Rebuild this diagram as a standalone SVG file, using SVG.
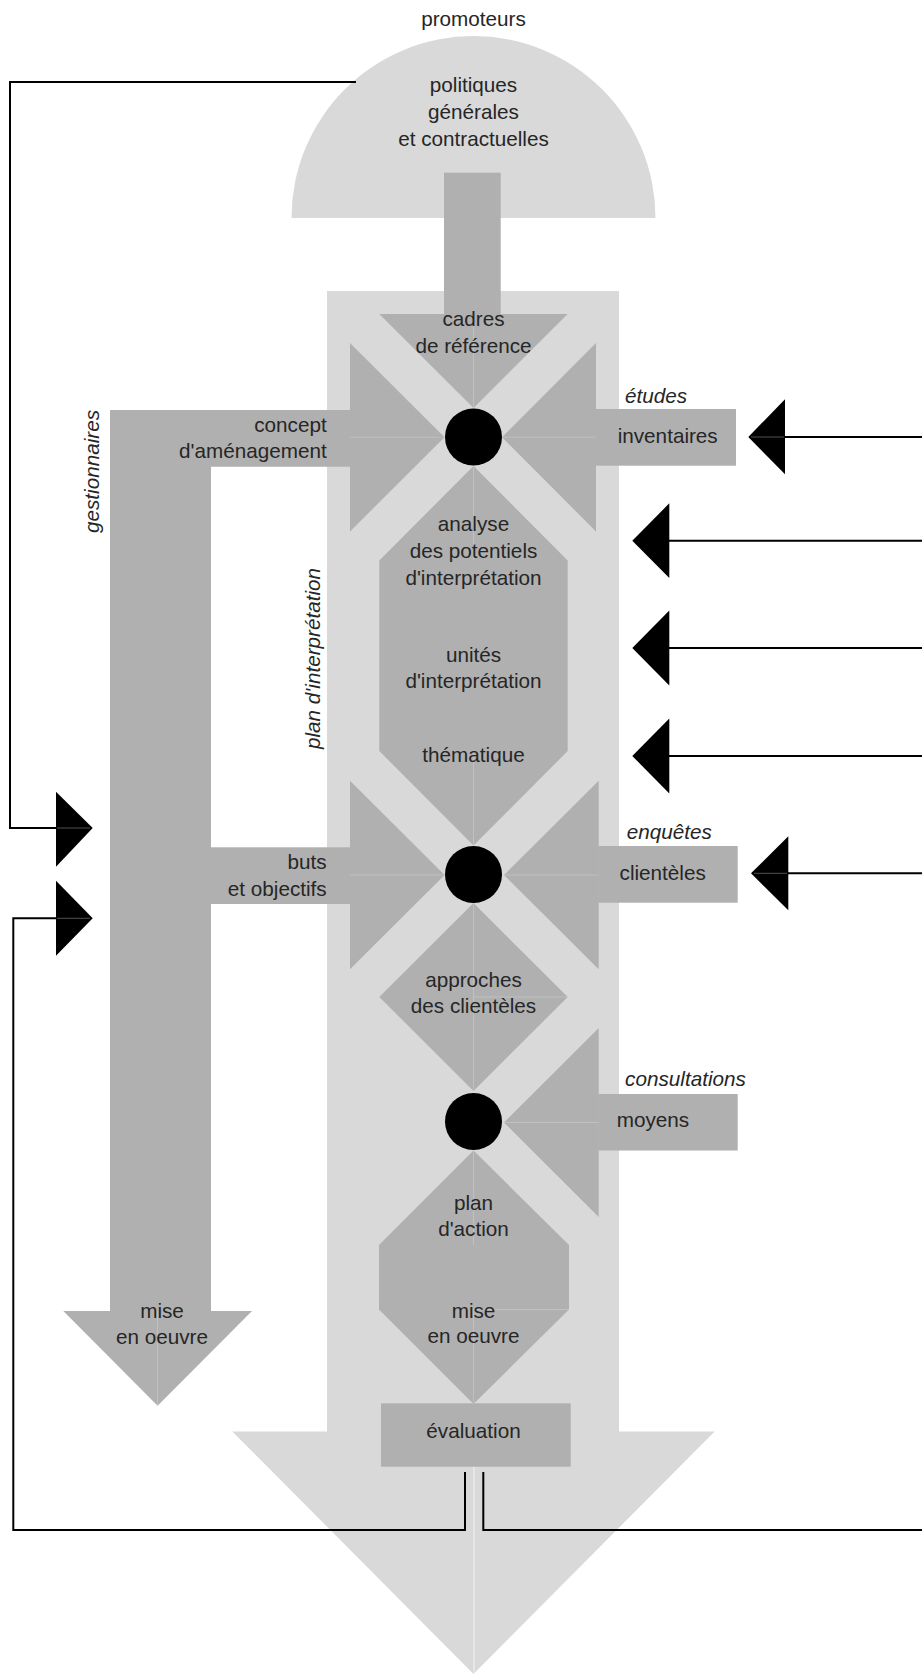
<svg xmlns="http://www.w3.org/2000/svg" width="922" height="1674" viewBox="0 0 922 1674">
<style>
.lg{fill:#d9d9d9}
.dg{fill:#b0b0b0}
.seam{stroke:#c4c4c4;stroke-width:0.8;fill:none}
.t{font-family:"Liberation Sans",Arial,sans-serif;font-size:20.7px;fill:#262626;text-anchor:middle}
.e{text-anchor:end}
.i{font-style:italic}
.ln{stroke:#000;stroke-width:2;fill:none}
.ah{fill:#000}
.ahs{stroke:#666;stroke-width:0.8}
</style>
<rect width="922" height="1674" fill="#fff"/>

<g id="plan-interpretation">
  <path class="lg" d="M327,291 L619,291 L619,1431.4 L714.7,1431.4 L473.5,1674 L232.3,1431.4 L327,1431.4 Z"/>
  <line x1="474" y1="1467" x2="474" y2="1674" stroke="#efefef" stroke-width="1.2"/>
  <text class="t i" transform="translate(319.5,749) rotate(-90)" style="text-anchor:start">plan d'interprétation</text>
</g>

<g id="promoteurs">
  <path class="lg" d="M291.5,218 A182,182 0 0 1 655.5,218 Z"/>
  <rect class="dg" x="444" y="172.7" width="56.7" height="145"/>
  <text class="t" x="473.5" y="26">promoteurs</text>
  <text class="t" x="473.5" y="92">politiques</text>
  <text class="t" x="473.5" y="119">générales</text>
  <text class="t" x="473.5" y="146">et contractuelles</text>
</g>

<g id="cadres">
  <polygon class="dg" points="379.3,314 567.7,314 473.5,408"/>
  <line class="seam" x1="473.5" y1="314" x2="473.5" y2="408"/>
  <text class="t" x="473.5" y="326">cadres</text>
  <text class="t" x="473.5" y="352.7">de référence</text>
</g>

<g id="gestionnaires">
  <path class="dg" d="M110,410 L350,410 L350,466.7 L211,466.7 L211,1311 L252,1311 L157.6,1405.7 L63.3,1311 L110,1311 Z"/>
  <polygon class="dg" points="350,343 350,531.5 444.5,437.2"/>
  <line class="seam" x1="350" y1="437.2" x2="444" y2="437.2"/>
  <line class="seam" x1="157.5" y1="1311" x2="157.5" y2="1405"/>
  <text class="t i" transform="translate(99,533) rotate(-90)" style="text-anchor:start">gestionnaires</text>
  <text class="t e" x="326.7" y="431.7">concept</text>
  <text class="t e" x="326.7" y="458.3">d'aménagement</text>
  <text class="t" x="162" y="1317.5">mise</text>
  <text class="t" x="162" y="1343.5">en oeuvre</text>
</g>

<g id="buts">
  <rect class="dg" x="211" y="847.3" width="139.5" height="56.7"/>
  <polygon class="dg" points="350,780.7 350,969.3 444.6,875"/>
  <line class="seam" x1="350" y1="875" x2="444" y2="875"/>
  <text class="t e" x="326.7" y="869">buts</text>
  <text class="t e" x="326.7" y="895.7">et objectifs</text>
</g>

<g id="inventaires">
  <polygon class="dg" points="596,343 596,531.5 502,437.2"/>
  <rect class="dg" x="595.5" y="409" width="140.5" height="56.7"/>
  <line class="seam" x1="503" y1="437.2" x2="596" y2="437.2"/>
  <text class="t i" x="656" y="403">études</text>
  <text class="t" x="667.7" y="443">inventaires</text>
</g>

<g id="analyse">
  <polygon class="dg" points="473.5,466 567.7,560.5 567.7,751 473.5,845.5 379.3,751 379.3,560.5"/>
  <line class="seam" x1="473.5" y1="466" x2="473.5" y2="560"/>
  <line class="seam" x1="473.5" y1="751" x2="473.5" y2="845"/>
  <text class="t" x="473.5" y="530.7">analyse</text>
  <text class="t" x="473.5" y="558.3">des potentiels</text>
  <text class="t" x="473.5" y="585">d'interprétation</text>
  <text class="t" x="473.5" y="661.7">unités</text>
  <text class="t" x="473.5" y="688.3">d'interprétation</text>
  <text class="t" x="473.5" y="761.7">thématique</text>
</g>

<g id="clienteles">
  <polygon class="dg" points="598.7,780.7 598.7,969.3 504,875"/>
  <rect class="dg" x="598.2" y="846" width="139.5" height="56.7"/>
  <line class="seam" x1="505" y1="875" x2="598.7" y2="875"/>
  <text class="t i" x="669.3" y="839">enquêtes</text>
  <text class="t" x="662.7" y="880">clientèles</text>
</g>

<g id="approches">
  <polygon class="dg" points="473.5,903 567.7,997 473.5,1091 379.3,997"/>
  <line class="seam" x1="473.5" y1="903" x2="473.5" y2="1091"/>
  <line class="seam" x1="473.5" y1="997" x2="567.7" y2="997"/>
  <text class="t" x="473.5" y="986.7">approches</text>
  <text class="t" x="473.5" y="1013.3">des clientèles</text>
</g>

<g id="moyens">
  <polygon class="dg" points="598.7,1028 598.7,1217 504,1122.5"/>
  <rect class="dg" x="598.2" y="1094" width="139.5" height="56.5"/>
  <line class="seam" x1="505" y1="1122.5" x2="598.7" y2="1122.5"/>
  <text class="t i" x="685.5" y="1085.7">consultations</text>
  <text class="t" x="653" y="1127">moyens</text>
</g>

<g id="plan-action">
  <polygon class="dg" points="473.5,1150.5 569,1245 569,1309.5 473.5,1404 379,1309.5 379,1245"/>
  <line class="seam" x1="473.5" y1="1150.5" x2="473.5" y2="1245"/>
  <line class="seam" x1="473.5" y1="1309.5" x2="569" y2="1309.5"/>
  <line class="seam" x1="473.5" y1="1309.5" x2="473.5" y2="1404"/>
  <text class="t" x="473.5" y="1210">plan</text>
  <text class="t" x="473.5" y="1236">d'action</text>
  <text class="t" x="473.5" y="1317.7">mise</text>
  <text class="t" x="473.5" y="1343.3">en oeuvre</text>
</g>

<g id="evaluation">
  <rect class="dg" x="381" y="1403.3" width="189.7" height="63.4"/>
  <text class="t" x="473.5" y="1438.3">évaluation</text>
</g>

<g id="hubs">
  <circle cx="473.5" cy="437" r="28.5" fill="#000"/>
  <circle cx="473.5" cy="874.5" r="28.5" fill="#000"/>
  <circle cx="473.5" cy="1121.5" r="28.5" fill="#000"/>
</g>

<g id="connectors">
  <polyline class="ln" points="356,82 10,82 10,828 57,828"/>
  <polygon class="ah" points="56,791.7 56,866.7 92.7,828"/>
  <line class="ahs" x1="57" y1="828" x2="90" y2="828"/>

  <polyline class="ln" points="465,1472 465,1530 13.3,1530 13.3,918.3 57,918.3"/>
  <polygon class="ah" points="56,880.7 56,955.7 92.7,918.3"/>
  <line class="ahs" x1="57" y1="918.3" x2="90" y2="918.3"/>

  <polyline class="ln" points="483.3,1472 483.3,1530 922,1530"/>

  <line class="ln" x1="922" y1="437" x2="784" y2="437"/>
  <polygon class="ah" points="748.3,437 785,399.3 785,474.3"/>
  <line class="ahs" x1="751" y1="437" x2="784" y2="437"/>

  <line class="ln" x1="922" y1="540.7" x2="668" y2="540.7"/>
  <polygon class="ah" points="632.3,540.7 669.3,503.3 669.3,578"/>

  <line class="ln" x1="922" y1="648" x2="668" y2="648"/>
  <polygon class="ah" points="632.3,648 669.3,610.6 669.3,685.4"/>

  <line class="ln" x1="922" y1="756" x2="668" y2="756"/>
  <polygon class="ah" points="632.3,756 669.3,718.6 669.3,793.4"/>

  <line class="ln" x1="922" y1="873.3" x2="787" y2="873.3"/>
  <polygon class="ah" points="751,873.3 788.3,836.3 788.3,910.3"/>
  <line class="ahs" x1="754" y1="873.3" x2="787" y2="873.3"/>
</g>
</svg>
